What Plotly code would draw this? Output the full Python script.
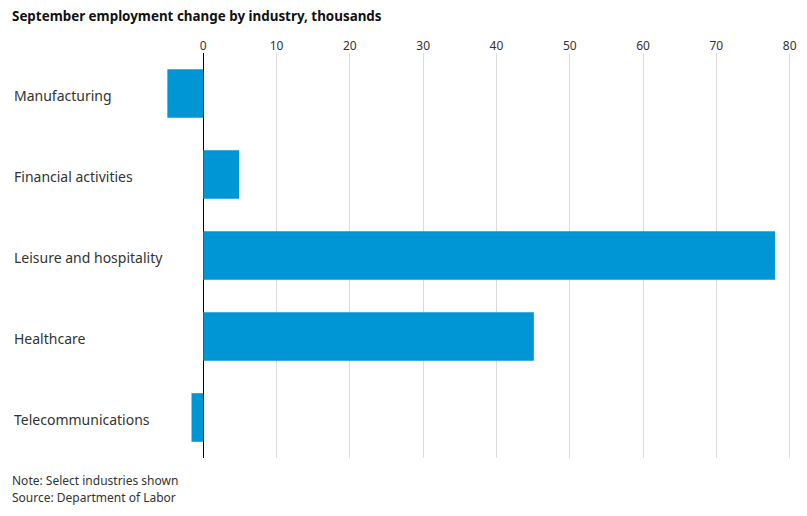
import plotly.graph_objects as go

categories = ["Manufacturing", "Financial activities", "Leisure and hospitality", "Healthcare", "Telecommunications"]
values = [-4.9, 4.9, 78, 45.1, -1.6]
tick_vals = [0, 10, 20, 30, 40, 50, 60, 70, 80]
tick_text = ["0", "10", "20", "30", "40", "50", "60", "70", "80"]

FONT = "Noto Sans, Lato, sans-serif"

# page body adds an 8px offset; compensate
OFF = 8
W, H = 807 - OFF, 516 - OFF
PL, PT, PR, PB = 14, 53, 795, 458  # plot box in page coordinates
ML, MT = PL - OFF, PT - OFF
MR = W - (PR - OFF)
MB = H - (PB - OFF)
PLOT_W = PR - PL
PLOT_H = PB - PT

def py(page_y):
    return (PB - page_y) / PLOT_H

def px(page_x):
    return (page_x - PL) / PLOT_W

fig = go.Figure()
fig.add_trace(go.Bar(
    y=categories, x=values, orientation="h",
    marker=dict(color="#0096D6", line=dict(width=0)),
    width=0.6, hoverinfo="x+y",
))

fig.update_layout(
    width=W, height=H,
    margin=dict(l=ML, r=MR, t=MT, b=MB, autoexpand=False),
    plot_bgcolor="white", paper_bgcolor="white",
    showlegend=False,
    xaxis=dict(
        range=[-25.82, 80.73], side="top",
        tickvals=tick_vals, ticktext=tick_text,
        showgrid=True, gridcolor="#dcdcdc", gridwidth=1,
        zeroline=True, zerolinecolor="#000000", zerolinewidth=1,
        tickfont=dict(family=FONT, size=12, color="#333333"),
        ticks="", showline=False, fixedrange=True, automargin=False,
    ),
    yaxis=dict(
        categoryorder="array", categoryarray=categories[::-1],
        showticklabels=False, showgrid=False, zeroline=False, ticks="",
        range=[-0.5, 4.5], fixedrange=True, automargin=False,
    ),
)

for c in categories:
    fig.add_annotation(
        x=0, xref="paper", y=c, yref="y", text=c, showarrow=False,
        xanchor="left", yanchor="middle", yshift=-2, xshift=-2,
        font=dict(family=FONT, size=14, color="#333333"),
    )
fig.add_annotation(
    x=px(10), xref="paper", y=py(16), yref="paper", yanchor="middle", xanchor="left",
    text="<b>September employment change by industry, thousands</b>", showarrow=False,
    font=dict(family=FONT, size=13.4, color="#111111"),
)
fig.add_annotation(
    x=px(10), xref="paper", y=py(480), yref="paper", yanchor="middle", xanchor="left",
    text="Note: Select industries shown", showarrow=False,
    font=dict(family=FONT, size=12, color="#333333"),
)
fig.add_annotation(
    x=px(10), xref="paper", y=py(497), yref="paper", yanchor="middle", xanchor="left",
    text="Source: Department of Labor", showarrow=False,
    font=dict(family=FONT, size=12, color="#333333"),
)

fig.write_html("out.html")
